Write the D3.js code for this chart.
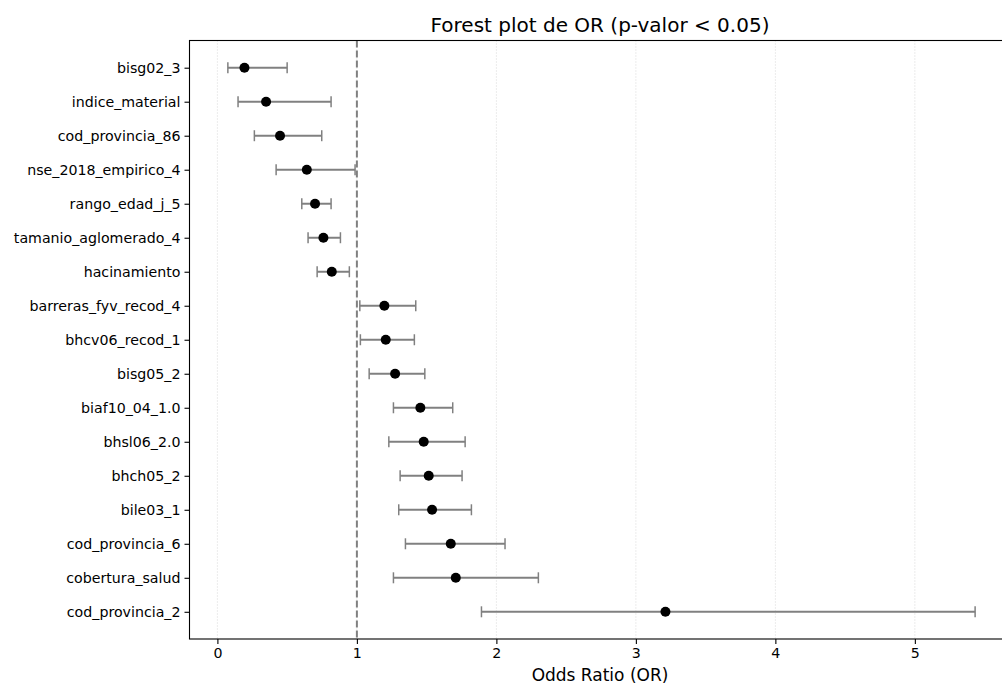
<!DOCTYPE html>
<meta charset="utf-8">
<script src="https://d3js.org/d3.v7.min.js"></script>
<style>
  body { margin: 0; background: #fff; }
  text { font-family: "DejaVu Sans", sans-serif; fill: #000; }
</style>
<div id="chart"></div>
<script>
// Variables (top to bottom) with odds ratio and 95% CI
const variables = ["bisg02_3", "indice_material", "cod_provincia_86", "nse_2018_empirico_4",
  "rango_edad_j_5", "tamanio_aglomerado_4", "hacinamiento", "barreras_fyv_recod_4",
  "bhcv06_recod_1", "bisg05_2", "biaf10_04_1.0", "bhsl06_2.0", "bhch05_2", "bile03_1",
  "cod_provincia_6", "cobertura_salud", "cod_provincia_2"];
const oddsRatio = [0.194, 0.349, 0.449, 0.641, 0.700, 0.760, 0.820, 1.197, 1.207, 1.274,
  1.455, 1.479, 1.515, 1.539, 1.673, 1.709, 3.212];
const ciLow = [0.075, 0.148, 0.265, 0.421, 0.605, 0.650, 0.715, 1.021, 1.025, 1.088,
  1.262, 1.229, 1.310, 1.300, 1.348, 1.262, 1.893];
const ciHigh = [0.500, 0.815, 0.748, 0.987, 0.815, 0.882, 0.946, 1.422, 1.412, 1.487,
  1.687, 1.776, 1.754, 1.821, 2.062, 2.301, 5.432];
const xTicks = [0, 1, 2, 3, 4, 5];

const data = variables.map((v, i) => ({name: v, or: oddsRatio[i], lo: ciLow[i], hi: ciHigh[i]}));

const width = 1002, height = 684;
const plot = {left: 189.5, right: 1012.5, top: 40.5, bottom: 639};

const svg = d3.select("#chart")
  .append("svg")
  .attr("width", width)
  .attr("height", height);

const x = d3.scaleLinear()
  .domain([-0.2, 5.7])
  .range([plot.left, plot.right]);

// rows 0..16 with matplotlib style 5% margins
const y = d3.scaleLinear()
  .domain([-0.8, variables.length - 1 + 0.8])
  .range([plot.top, plot.bottom]);

// dotted x grid
svg.append("g")
  .selectAll("line")
  .data(xTicks)
  .join("line")
    .attr("x1", d => x(d)).attr("x2", d => x(d))
    .attr("y1", plot.top).attr("y2", plot.bottom)
    .attr("stroke", "#d8d8d8")
    .attr("stroke-width", 1)
    .attr("stroke-dasharray", "1,2");

// reference line at OR = 1
svg.append("line")
  .attr("x1", x(1)).attr("x2", x(1))
  .attr("y1", plot.top).attr("y2", plot.bottom)
  .attr("stroke", "#808080")
  .attr("stroke-width", 2)
  .attr("stroke-dasharray", "7,3");

// error bars
const bars = svg.append("g")
  .selectAll("g")
  .data(data)
  .join("g")
    .attr("stroke", "#808080")
    .attr("stroke-width", 2);

bars.append("line")
  .attr("x1", d => x(d.lo)).attr("x2", d => x(d.hi))
  .attr("y1", (d, i) => y(i)).attr("y2", (d, i) => y(i));
bars.append("line")
  .attr("x1", d => x(d.lo)).attr("x2", d => x(d.lo))
  .attr("y1", (d, i) => y(i) - 5.5).attr("y2", (d, i) => y(i) + 5.5)
  .attr("stroke-width", 1.5);
bars.append("line")
  .attr("x1", d => x(d.hi)).attr("x2", d => x(d.hi))
  .attr("y1", (d, i) => y(i) - 5.5).attr("y2", (d, i) => y(i) + 5.5)
  .attr("stroke-width", 1.5);

// points
svg.append("g")
  .selectAll("circle")
  .data(data)
  .join("circle")
    .attr("cx", d => x(d.or))
    .attr("cy", (d, i) => y(i))
    .attr("r", 5)
    .attr("fill", "#000");

// axes
const xAxis = svg.append("g")
  .attr("transform", `translate(0, ${plot.bottom})`)
  .call(d3.axisBottom(x).tickValues(xTicks).tickSize(5).tickPadding(4).tickFormat(d3.format("d")));
const yAxis = svg.append("g")
  .attr("transform", `translate(${plot.left}, 0)`)
  .call(d3.axisLeft(y).tickValues(d3.range(variables.length)).tickSize(5).tickPadding(4)
    .tickFormat(i => variables[i]));

[xAxis, yAxis].forEach(a => {
  a.select(".domain").remove();
  a.selectAll("line").attr("stroke", "#000").attr("stroke-width", 1.1);
  a.selectAll("text").attr("font-size", "14.2px").attr("font-family", "DejaVu Sans").attr("fill", "#000");
});

// spines
svg.append("rect")
  .attr("x", plot.left).attr("y", plot.top)
  .attr("width", plot.right - plot.left).attr("height", plot.bottom - plot.top)
  .attr("fill", "none")
  .attr("stroke", "#000")
  .attr("stroke-width", 1.1);

// title and label
svg.append("text")
  .attr("x", 600).attr("y", 31.5)
  .attr("text-anchor", "middle")
  .attr("font-size", "20px")
  .text("Forest plot de OR (p-valor < 0.05)");

svg.append("text")
  .attr("x", 600).attr("y", 681)
  .attr("text-anchor", "middle")
  .attr("font-size", "17px")
  .text("Odds Ratio (OR)");
</script>
